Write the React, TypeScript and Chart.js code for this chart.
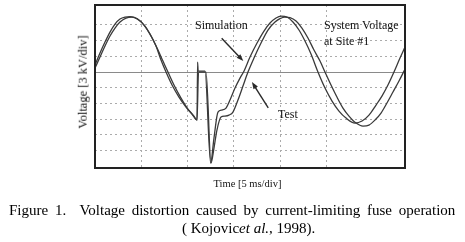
import React, { useEffect, useRef } from "react";
import { Chart, registerables } from "chart.js";

Chart.register(...registerables);

// Time in ms (5 ms/div), voltage in kV (3 kV/div)
const simTime = [0, 0.54, 1.08, 1.62, 2.16, 2.7, 3.24, 3.78, 4.54, 5.29, 5.94, 6.59, 7.13, 7.67, 8.32, 9.07, 9.83, 10.47, 11.02, 11.08, 11.14, 11.88, 12.49, 12.85, 13.28, 13.71, 14.15, 14.58, 15.12, 15.66, 16.04, 16.74, 17.5, 18.25, 18.9, 19.55, 20.09, 20.74, 21.38, 22.03, 22.68, 23.33, 24.08, 24.84, 25.6, 26.35, 27.11, 28.08, 28.84, 29.59, 30.35, 30.99, 31.64, 32.29, 32.94, 33.48];
const simVolt = [1.34, 3.63, 5.73, 7.64, 9.17, 10.13, 10.51, 10.6, 10.22, 8.98, 7.26, 4.97, 2.29, 0, -2.48, -4.78, -6.69, -8.03, -9.17, 1.91, 0.19, 0.19, -17.39, -12.61, -7.64, -7.26, -6.88, -5.35, -3.06, -1.15, 0, 2.87, 5.54, 7.83, 9.36, 10.32, 10.7, 10.51, 9.55, 8.03, 5.92, 3.44, 0, -3.06, -5.54, -7.45, -8.79, -9.75, -9.36, -8.22, -6.31, -4.59, -2.48, 0, 2.68, 4.78];

const testTime = [0, 0.54, 1.08, 1.62, 2.16, 2.7, 3.35, 3.99, 4.64, 5.4, 6.05, 6.7, 7.34, 7.88, 8.53, 9.29, 10.04, 10.69, 11.02, 11.18, 11.99, 12.53, 12.85, 13.17, 13.61, 14.04, 14.47, 14.9, 15.44, 15.98, 16.52, 17.17, 17.93, 18.68, 19.44, 19.98, 20.52, 21.06, 21.71, 22.35, 23.0, 23.65, 24.3, 24.84, 25.49, 26.13, 26.78, 27.43, 28.19, 28.94, 29.59, 30.24, 30.89, 31.53, 32.18, 32.83, 33.48];
const testVolt = [0.76, 2.87, 4.97, 6.88, 8.41, 9.55, 10.32, 10.51, 10.03, 8.79, 6.88, 4.59, 2.1, 0, -2.48, -4.97, -7.07, -8.41, -9.17, 0, 0, -17.39, -14.52, -11.08, -8.6, -8.41, -8.22, -7.64, -5.35, -2.68, 0, 2.68, 5.54, 8.03, 9.55, 10.22, 10.51, 10.41, 9.75, 8.41, 6.5, 4.2, 2.1, 0, -2.48, -4.78, -6.88, -8.41, -9.75, -10.32, -10.13, -9.17, -7.83, -5.92, -3.82, -1.72, 0.57];

const timeGrid = [5, 10, 15, 20, 25, 30];
const voltGrid = [-15, -12, -9, -6, -3, 3, 6, 9];
const timeRange = [0, 33.48];
const voltRange = [-18.33, 12.81];

// annotation arrows [fromTime, fromVolt, toTime, toVolt]
const simArrow = [13.68, 6.44, 16.02, 2.1];
const testArrow = [18.71, -6.82, 16.95, -1.91];

const serif = '"Liberation Serif", "Times New Roman", serif';

function toPoints(t: number[], v: number[]) {
  return t.map((x, i) => ({ x, y: v[i] }));
}

const near = (v: number, list: number[]) => list.some((g) => Math.abs(g - v) < 1e-6);

export default function App() {
  const ref = useRef<HTMLCanvasElement | null>(null);

  useEffect(() => {
    if (!ref.current) return;
    const drawArrow = (chart: any, a: number[]) => {
      const xs = chart.scales.x;
      const ys = chart.scales.y;
      const x1 = xs.getPixelForValue(a[0]);
      const y1 = ys.getPixelForValue(a[1]);
      const x2 = xs.getPixelForValue(a[2]);
      const y2 = ys.getPixelForValue(a[3]);
      const ctx = chart.ctx;
      const ang = Math.atan2(y2 - y1, x2 - x1);
      const hl = 7;
      const hw = 2.6;
      ctx.save();
      ctx.strokeStyle = "#2a2a2a";
      ctx.fillStyle = "#2a2a2a";
      ctx.lineWidth = 1.4;
      ctx.beginPath();
      ctx.moveTo(x1, y1);
      ctx.lineTo(x2 - Math.cos(ang) * hl * 0.8, y2 - Math.sin(ang) * hl * 0.8);
      ctx.stroke();
      ctx.beginPath();
      ctx.moveTo(x2, y2);
      ctx.lineTo(x2 - Math.cos(ang) * hl - Math.sin(ang) * hw, y2 - Math.sin(ang) * hl + Math.cos(ang) * hw);
      ctx.lineTo(x2 - Math.cos(ang) * hl + Math.sin(ang) * hw, y2 - Math.sin(ang) * hl - Math.cos(ang) * hw);
      ctx.closePath();
      ctx.fill();
      ctx.restore();
    };

    const decor = {
      id: "decor",
      beforeDatasetsDraw(chart: any) {
        const { ctx, chartArea } = chart;
        const y0 = chart.scales.y.getPixelForValue(0);
        ctx.save();
        ctx.strokeStyle = "#8a8a8a";
        ctx.lineWidth = 1;
        ctx.beginPath();
        ctx.moveTo(chartArea.left, Math.round(y0) + 0.5);
        ctx.lineTo(chartArea.right, Math.round(y0) + 0.5);
        ctx.stroke();
        ctx.restore();
      },
      afterDatasetsDraw(chart: any) {
        const { ctx, chartArea } = chart;
        ctx.save();
        ctx.strokeStyle = "#222";
        ctx.lineWidth = 2;
        ctx.strokeRect(chartArea.left, chartArea.top, chartArea.right - chartArea.left, chartArea.bottom - chartArea.top);
        ctx.restore();
        drawArrow(chart, simArrow);
        drawArrow(chart, testArrow);
      },
    };

    const chart = new Chart(ref.current, {
      type: "line",
      data: {
        datasets: [
          {
            label: "Simulation",
            data: toPoints(simTime, simVolt),
            borderColor: "#3a3a3a",
            borderWidth: 1.3,
            pointRadius: 0,
            cubicInterpolationMode: "monotone",
          },
          {
            label: "Test",
            data: toPoints(testTime, testVolt),
            borderColor: "#3a3a3a",
            borderWidth: 1.3,
            pointRadius: 0,
            cubicInterpolationMode: "monotone",
          },
        ],
      },
      options: {
        animation: false,
        responsive: false,
        maintainAspectRatio: false,
        parsing: false as any,
        layout: { padding: { left: 95, right: 60, top: 5, bottom: 74 } },
        plugins: { legend: { display: false }, tooltip: { enabled: false } },
        scales: {
          x: {
            type: "linear",
            min: timeRange[0],
            max: timeRange[1],
            ticks: { display: false, stepSize: 5 },
            grid: {
              drawTicks: false,
              lineWidth: 1,
              color: (c: any) => (near(c.tick.value, timeGrid) ? "#ababab" : "rgba(0,0,0,0)"),
            },
            border: { display: false, dash: [2, 3] },
          },
          y: {
            type: "linear",
            min: voltRange[0],
            max: voltRange[1],
            ticks: { display: false, stepSize: 3 },
            grid: {
              drawTicks: false,
              lineWidth: 1,
              color: (c: any) => (near(c.tick.value, voltGrid) ? "#ababab" : "rgba(0,0,0,0)"),
            },
            border: { display: false, dash: [2, 3] },
          },
        },
      },
      plugins: [decor],
    });
    return () => chart.destroy();
  }, []);

  const txt = (extra: React.CSSProperties): React.CSSProperties => ({
    position: "absolute",
    fontFamily: serif,
    lineHeight: 1,
    whiteSpace: "nowrap",
    color: "#111",
    ...extra,
  });

  return (
    <div style={{ position: "absolute", left: 0, top: 0, width: 465, height: 242, background: "#fff", overflow: "hidden" }}>
      <canvas ref={ref} width={465} height={242} style={{ position: "absolute", left: 0, top: 0 }} />
      <div style={txt({ left: 195, top: 19, fontSize: 12 })}>Simulation</div>
      <div style={txt({ left: 324, top: 19, fontSize: 12 })}>System Voltage</div>
      <div style={txt({ left: 324, top: 35, fontSize: 12 })}>at Site #1</div>
      <div style={txt({ left: 278, top: 108, fontSize: 12 })}>Test</div>
      <div
        style={txt({
          left: 83,
          top: 82,
          fontSize: 12.5,
          transform: "translate(-50%, -50%) rotate(-90deg)",
        })}
      >
        Voltage [3 kV/div]
      </div>
      <div style={txt({ left: 247.5, top: 178.5, fontSize: 10.5, transform: "translateX(-50%)" })}>Time [5 ms/div]</div>
      <div style={txt({ left: 9, top: 202.5, fontSize: 15, color: "#000", wordSpacing: 3 })}>
        Figure 1.&nbsp; Voltage distortion caused by current-limiting fuse operation
      </div>
      <div style={txt({ left: 182, top: 220.5, fontSize: 15, color: "#000" })}>
        ( Kojovic<i>et al.</i>, 1998).
      </div>
    </div>
  );
}
